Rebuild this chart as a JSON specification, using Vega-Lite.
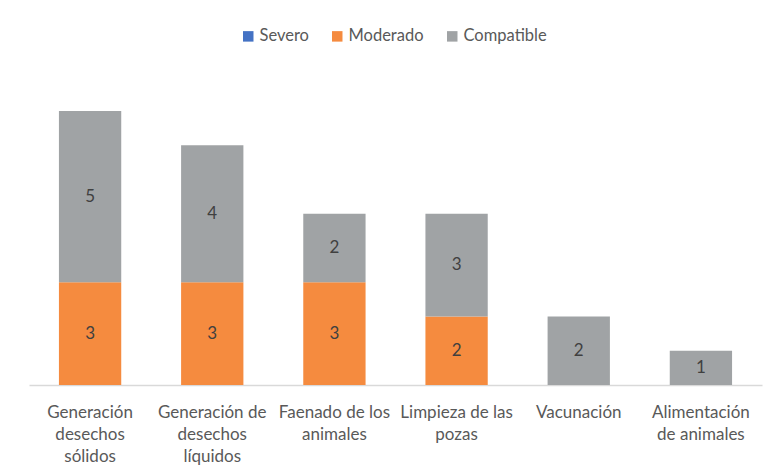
{
  "$schema": "https://vega.github.io/schema/vega-lite/v6.json",
  "width": 733,
  "height": 274,
  "autosize": "none",
  "padding": {"left": 29, "top": 111, "right": 15, "bottom": 90},
  "background": "white",
  "config": {"view": {"stroke": null}, "font": "Lato"},
  "data": {
    "values": [
      {"cat": "Generación desechos sólidos", "serie": "Severo", "ord": 0, "v": 0},
      {"cat": "Generación desechos sólidos", "serie": "Moderado", "ord": 1, "v": 3},
      {"cat": "Generación desechos sólidos", "serie": "Compatible", "ord": 2, "v": 5},
      {"cat": "Generación de desechos líquidos", "serie": "Severo", "ord": 0, "v": 0},
      {"cat": "Generación de desechos líquidos", "serie": "Moderado", "ord": 1, "v": 3},
      {"cat": "Generación de desechos líquidos", "serie": "Compatible", "ord": 2, "v": 4},
      {"cat": "Faenado de los animales", "serie": "Severo", "ord": 0, "v": 0},
      {"cat": "Faenado de los animales", "serie": "Moderado", "ord": 1, "v": 3},
      {"cat": "Faenado de los animales", "serie": "Compatible", "ord": 2, "v": 2},
      {"cat": "Limpieza de las pozas", "serie": "Severo", "ord": 0, "v": 0},
      {"cat": "Limpieza de las pozas", "serie": "Moderado", "ord": 1, "v": 2},
      {"cat": "Limpieza de las pozas", "serie": "Compatible", "ord": 2, "v": 3},
      {"cat": "Vacunación", "serie": "Severo", "ord": 0, "v": 0},
      {"cat": "Vacunación", "serie": "Moderado", "ord": 1, "v": 0},
      {"cat": "Vacunación", "serie": "Compatible", "ord": 2, "v": 2},
      {"cat": "Alimentación de animales", "serie": "Severo", "ord": 0, "v": 0},
      {"cat": "Alimentación de animales", "serie": "Moderado", "ord": 1, "v": 0},
      {"cat": "Alimentación de animales", "serie": "Compatible", "ord": 2, "v": 1}
    ]
  },
  "transform": [
    {"stack": "v", "groupby": ["cat"], "sort": [{"field": "ord", "order": "ascending"}], "as": ["y0", "y1"]},
    {"calculate": "(datum.y0 + datum.y1) / 2", "as": "ymid"}
  ],
  "encoding": {
    "x": {
      "field": "cat",
      "type": "nominal",
      "sort": null,
      "scale": {"paddingInner": 0.49, "paddingOuter": 0.245},
      "axis": {
        "title": null,
        "labelAngle": 0,
        "ticks": false,
        "domainColor": "#d9d9d9",
        "domainWidth": 1.5,
        "labelFont": "Lato",
        "labelFontSize": 17,
        "labelColor": "#595959",
        "labelPadding": 19,
        "labelLineHeight": 22,
        "labelBaseline": "top",
        "labelLimit": 200,
        "labelExpr": "datum.label == 'Generación desechos sólidos' ? ['Generación', 'desechos', 'sólidos'] : datum.label == 'Generación de desechos líquidos' ? ['Generación de', 'desechos', 'líquidos'] : datum.label == 'Faenado de los animales' ? ['Faenado de los', 'animales'] : datum.label == 'Limpieza de las pozas' ? ['Limpieza de las', 'pozas'] : datum.label == 'Alimentación de animales' ? ['Alimentación', 'de animales'] : datum.label"
      }
    }
  },
  "layer": [
    {
      "mark": {"type": "bar"},
      "encoding": {
        "y": {"field": "y0", "type": "quantitative", "scale": {"domain": [0, 8], "nice": false}, "axis": null},
        "y2": {"field": "y1"},
        "color": {
          "field": "serie",
          "type": "nominal",
          "scale": {"domain": ["Severo", "Moderado", "Compatible"], "range": ["#4472C4", "#F58B3F", "#A0A3A5"]},
          "legend": {
            "title": null,
            "orient": "none",
            "direction": "horizontal",
            "legendX": 211,
            "legendY": -83,
            "symbolType": "square",
            "symbolSize": 110,
            "symbolStrokeWidth": 0,
            "labelFont": "Lato",
            "labelFontSize": 16.5,
            "labelColor": "#595959",
            "labelOffset": 3,
            "columnPadding": 20
          }
        }
      }
    },
    {
      "transform": [{"filter": "datum.v > 0"}],
      "mark": {"type": "text", "fontSize": 17, "color": "#404040", "font": "Lato"},
      "encoding": {
        "y": {"field": "ymid", "type": "quantitative", "scale": {"domain": [0, 8], "nice": false}},
        "text": {"field": "v", "type": "quantitative"}
      }
    }
  ]
}
